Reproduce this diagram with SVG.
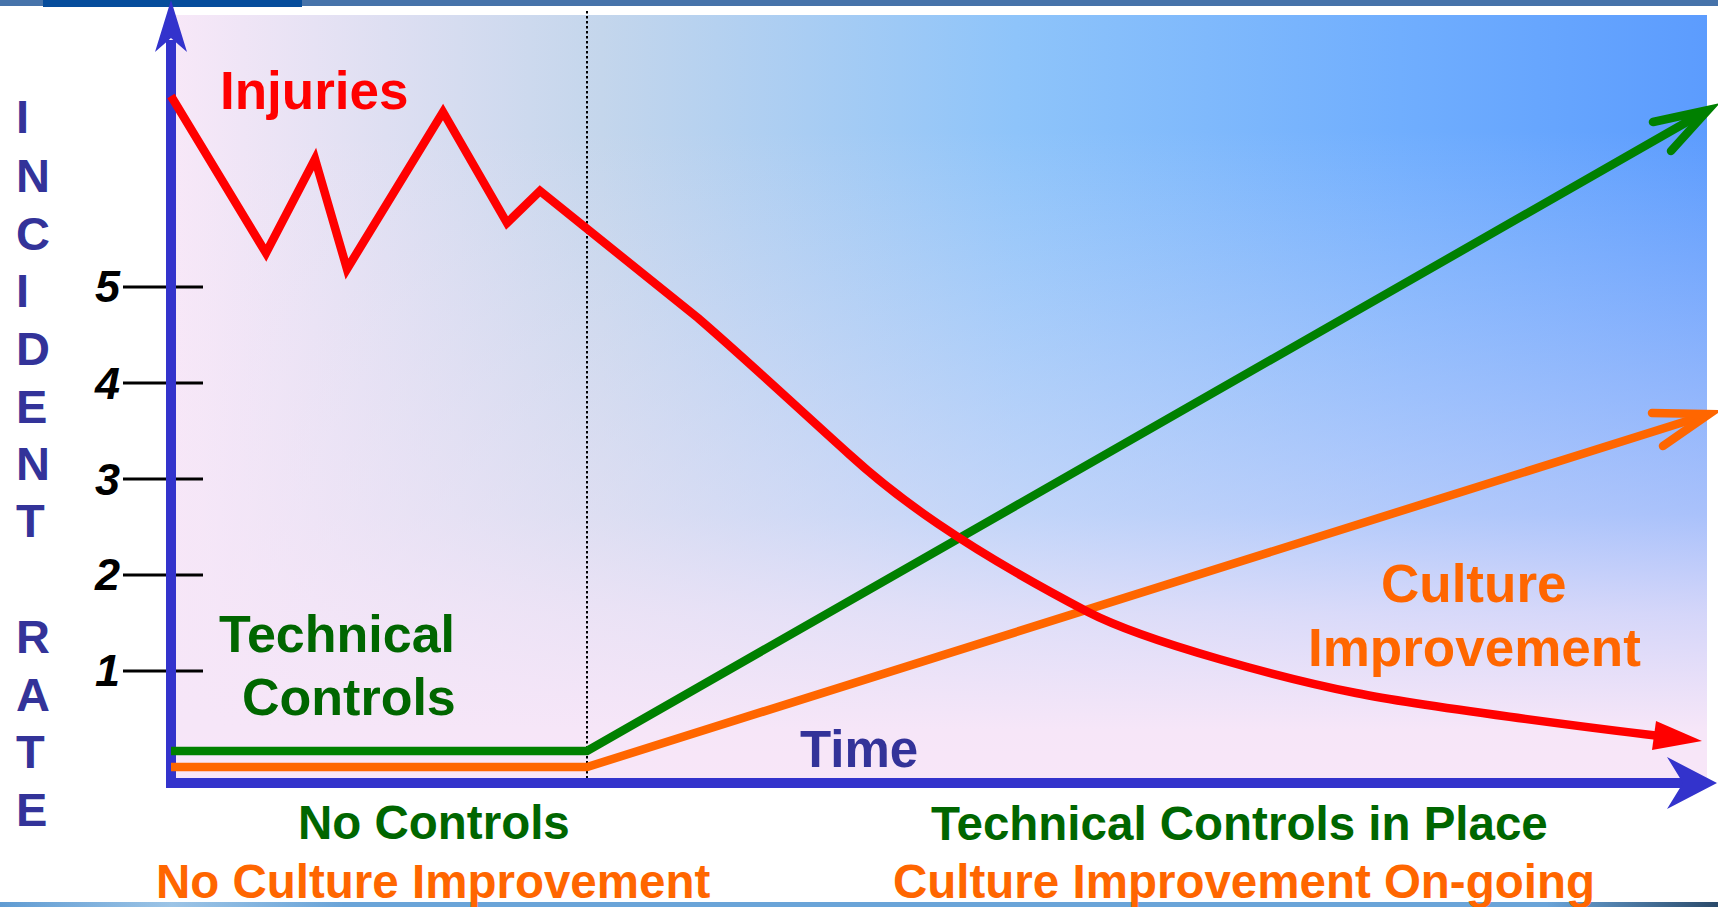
<svg xmlns="http://www.w3.org/2000/svg" width="1718" height="907" viewBox="0 0 1718 907">
<defs>
<linearGradient id="bgH" x1="171" y1="0" x2="1707" y2="0" gradientUnits="userSpaceOnUse">
<stop offset="0" stop-color="#f8e8f8"/>
<stop offset="0.28" stop-color="#c4d6ec"/>
<stop offset="0.55" stop-color="#8ec4fa"/>
<stop offset="0.8" stop-color="#70aefe"/>
<stop offset="1" stop-color="#5c9cfe"/>
</linearGradient>
<linearGradient id="bgV" x1="0" y1="15" x2="0" y2="783" gradientUnits="userSpaceOnUse">
<stop offset="0" stop-color="#f6e6f8" stop-opacity="0"/>
<stop offset="0.15" stop-color="#f6e6f8" stop-opacity="0"/>
<stop offset="0.45" stop-color="#f6e6f8" stop-opacity="0.3"/>
<stop offset="0.65" stop-color="#f6e6f8" stop-opacity="0.5"/>
<stop offset="0.78" stop-color="#f6e6f8" stop-opacity="0.78"/>
<stop offset="0.93" stop-color="#f6e6f8" stop-opacity="1"/>
<stop offset="1" stop-color="#f8e6f8" stop-opacity="1"/>
</linearGradient>
<linearGradient id="strip" x1="0" y1="0" x2="1718" y2="0" gradientUnits="userSpaceOnUse">
<stop offset="0" stop-color="#5f9bd2"/>
<stop offset="0.1" stop-color="#9cc4e6"/>
<stop offset="0.2" stop-color="#6aa4d8"/>
<stop offset="0.9" stop-color="#6aa4d8"/>
<stop offset="1" stop-color="#2a4a6a"/>
</linearGradient>
<style>
text{font-family:"Liberation Sans",Arial,sans-serif;font-weight:bold}
.vl{font-size:47px;fill:#333399}
.num{font-size:45px;font-style:italic;fill:#000;text-anchor:end}
.tick{stroke:#000;stroke-width:3}
.green{fill:#006600}
.orange{fill:#ff6600}
.bottom{font-size:47.5px}
.ln{fill:none;stroke-width:8.5;stroke-linejoin:miter}
</style>
</defs>
<rect width="1718" height="907" fill="#ffffff"/>
<rect x="0" y="0" width="1718" height="6" fill="#4673aa"/>
<rect x="43" y="0" width="259" height="7" fill="#064d9c"/>
<rect x="0" y="902" width="1718" height="5" fill="url(#strip)"/>
<g id="plot-background">
<rect x="171" y="15" width="1536" height="768" fill="url(#bgH)"/>
<rect x="171" y="15" width="1536" height="768" fill="url(#bgV)"/>
</g>
<g id="axis-label">
<text class="vl" x="16" y="133">I</text>
<text class="vl" x="16" y="192">N</text>
<text class="vl" x="16" y="250">C</text>
<text class="vl" x="16" y="307">I</text>
<text class="vl" x="16" y="365">D</text>
<text class="vl" x="16" y="423">E</text>
<text class="vl" x="16" y="480">N</text>
<text class="vl" x="16" y="537">T</text>
<text class="vl" x="16" y="653">R</text>
<text class="vl" x="16" y="711">A</text>
<text class="vl" x="16" y="768">T</text>
<text class="vl" x="16" y="826">E</text>
</g>
<g id="y-scale">
<line class="tick" x1="123" y1="287" x2="203" y2="287"/>
<line class="tick" x1="123" y1="383" x2="203" y2="383"/>
<line class="tick" x1="123" y1="479" x2="203" y2="479"/>
<line class="tick" x1="123" y1="575" x2="203" y2="575"/>
<line class="tick" x1="123" y1="671" x2="203" y2="671"/>
<text class="num" x="120" y="302">5</text>
<text class="num" x="120" y="399">4</text>
<text class="num" x="120" y="495">3</text>
<text class="num" x="120" y="590">2</text>
<text class="num" x="120" y="686">1</text>
</g>
<g id="connectors">
<line x1="587" y1="11" x2="587" y2="782" stroke="#000" stroke-width="2" stroke-dasharray="2.5,2.5"/>
<g id="y-axis">
<line x1="171" y1="40" x2="171" y2="788" stroke="#3333cc" stroke-width="10"/>
<polygon points="171,0 187,52 171,38 155,52" fill="#3333cc"/>
</g>
<g id="x-axis">
<line x1="166" y1="783" x2="1688" y2="783" stroke="#3333cc" stroke-width="10"/>
<polygon points="1717,783 1667,757 1683,783 1667,809" fill="#3333cc"/>
</g>
<g id="technical-controls-line">
<polyline class="ln" points="171,751 587,751 1706,111" stroke="#008000"/>
<polyline class="ln" points="1653,122 1708,110 1671,151" stroke="#008000" stroke-linecap="round"/>
</g>
<g id="culture-line">
<polyline class="ln" points="171,767 587,767 1706,415" stroke="#ff6600"/>
<polyline class="ln" points="1652,413 1709,414 1663,446" stroke="#ff6600" stroke-linecap="round"/>
</g>
<g id="injuries-line">
<path class="ln" stroke="#ff0000" d="M171,96 L266,253 L315,159 L347,269 L443,112 L507,223 L540,191 L698,318 C750,363 800,410 850,455 C895,496 960,545 1088,612 C1148,643 1290,680 1356,693 C1420,706 1600,729 1660,736"/>
<polygon points="1702,741 1656,721 1652,750" fill="#ff0000"/>
</g>
</g>
<g id="injuries-label"><text x="220" y="109" font-size="53" fill="#ff0000">Injuries</text></g>
<g id="technical-controls-label">
<text class="green" x="219" y="652" font-size="52">Technical</text>
<text class="green" x="242" y="715" font-size="52">Controls</text>
</g>
<g id="culture-label">
<text class="orange" x="1381" y="602" font-size="53">Culture</text>
<text class="orange" x="1308" y="666" font-size="53">Improvement</text>
</g>
<g id="time-label"><text x="800" y="767" font-size="51" fill="#333399">Time</text></g>
<g id="phase-1">
<text class="green bottom" x="298" y="839">No Controls</text>
<text class="orange bottom" x="156" y="898">No Culture Improvement</text>
</g>
<g id="phase-2">
<text class="green bottom" x="931" y="840">Technical Controls in Place</text>
<text class="orange bottom" x="893" y="898">Culture Improvement On-going</text>
</g>
</svg>
